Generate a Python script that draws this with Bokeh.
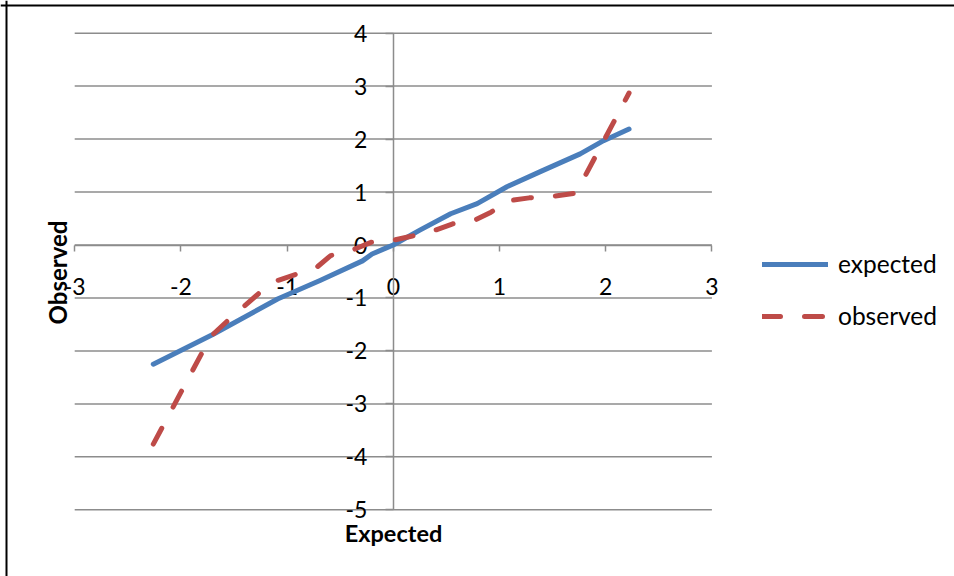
from bokeh.plotting import figure
from bokeh.models import (Range1d, LinearAxis, FixedTicker, Legend, LegendItem,
                          Span, Label)
from bokeh.embed import file_html
from bokeh.resources import INLINE

# ---- data ----
exp_x = [-2.26, -1.70, -1.09, -0.69, -0.29, -0.20, -0.06, 0.00, 0.25, 0.54,
         0.79, 1.07, 1.40, 1.76, 1.98, 2.22]
exp_y = [-2.25, -1.69, -1.02, -0.67, -0.30, -0.17, -0.05, 0.00, 0.28, 0.59,
         0.78, 1.10, 1.40, 1.72, 1.97, 2.19]

obs_x = [-2.26, -1.72, -1.56, -1.27, -1.09, -0.72, -0.59, -0.39, -0.21, 0.00,
         0.18, 0.38, 0.56, 0.76, 0.92, 1.10, 1.28, 1.50, 1.72, 1.98, 2.22]
obs_y = [-3.76, -1.73, -1.43, -0.92, -0.67, -0.42, -0.20, -0.10, 0.05, 0.09,
         0.17, 0.27, 0.40, 0.46, 0.62, 0.84, 0.89, 0.92, 0.98, 1.96, 2.87]

x_ticks = [-3, -2, -1, 0, 1, 2, 3]
y_ticks = [-5, -4, -3, -2, -1, 0, 1, 2, 3, 4]

series_names = ["expected", "observed"]
x_title = "Expected"
y_title = "Observed"

# ---- layout ----
W, H = 954, 576
X0_PX, X_UNIT = 392.8, 106.2   # pixel of x=0, pixels per x unit
Y0_PX, Y_UNIT = 244.5, 52.96   # pixel of y=0, pixels per y unit

def px_to_x(px):
    return (px - X0_PX) / X_UNIT

def py_to_y(py):
    return (Y0_PX - py) / Y_UNIT

FONT = "Lato"
BLUE = "#4A7EBB"
RED = "#BE4B48"
GRID = "#8C8C8C"

p = figure(width=W, height=H, output_backend="svg", toolbar_location=None,
           x_range=Range1d(px_to_x(0), px_to_x(W)),
           y_range=Range1d(py_to_y(H), py_to_y(0)),
           x_axis_location=None, y_axis_location=None, min_border=0,
           outline_line_color=None, background_fill_color="white",
           border_fill_color="white")
p.grid.visible = False

# horizontal gridlines limited to the x tick span
p.segment(x0=x_ticks[0], x1=x_ticks[-1], y0=y_ticks, y1=y_ticks,
          line_color=GRID, line_width=1.5, level="underlay")

# axes crossing at zero
xaxis = LinearAxis(fixed_location=0, bounds=(x_ticks[0], x_ticks[-1]),
                   ticker=FixedTicker(ticks=x_ticks),
                   major_label_overrides={t: str(t) for t in x_ticks})
yaxis = LinearAxis(fixed_location=0, bounds=(y_ticks[0], y_ticks[-1]),
                   ticker=FixedTicker(ticks=y_ticks),
                   major_label_overrides={t: str(t) for t in y_ticks})
for ax, tick_out, standoff in ((xaxis, 6, 27), (yaxis, 8, 18)):
    ax.axis_line_color = GRID
    ax.axis_line_width = 1.5
    ax.major_tick_line_color = GRID
    ax.major_tick_line_width = 1.5
    ax.major_tick_in = 0
    ax.major_tick_out = tick_out
    ax.minor_tick_line_color = None
    ax.major_label_standoff = standoff
    ax.major_label_text_font = FONT
    ax.major_label_text_font_size = "23px"
    ax.major_label_text_color = "black"
    ax.level = "underlay"
p.add_layout(xaxis, "below")
p.add_layout(yaxis, "left")

# data lines
r_exp = p.line(exp_x, exp_y, line_color=BLUE, line_width=5,
               line_cap="round", line_join="round")
r_obs = p.line(obs_x, obs_y, line_color=RED, line_width=5,
               line_dash="18 24", line_cap="round", line_join="round")

# legend
legend = Legend(items=[LegendItem(label=series_names[0], renderers=[r_exp]),
                       LegendItem(label=series_names[1], renderers=[r_obs])],
                location=(762, 246), orientation="vertical",
                glyph_width=66, glyph_height=20, label_standoff=10,
                label_height=20, spacing=23, padding=0, margin=0,
                label_text_font=FONT, label_text_font_size="24.5px",
                label_text_color="black", border_line_color=None,
                background_fill_alpha=0)
p.add_layout(legend)

# axis titles
p.add_layout(Label(x=393, y=H - 532, x_units="screen", y_units="screen",
                   text=x_title, text_align="center", text_baseline="middle",
                   text_font=FONT, text_font_style="bold",
                   text_font_size="23.5px", text_color="black"))
p.add_layout(Label(x=57, y=H - 272, x_units="screen", y_units="screen",
                   text=y_title, angle=90, angle_units="deg",
                   text_align="center", text_baseline="middle",
                   text_font=FONT, text_font_style="bold",
                   text_font_size="24px", text_color="black"))

# chart border (left and top edges visible in the window)
p.add_layout(Span(location=px_to_x(6), dimension="height",
                  line_color="black", line_width=2))
p.add_layout(Span(location=py_to_y(5), dimension="width",
                  line_color="black", line_width=2))

open("out.html", "w").write(file_html(p, INLINE))
